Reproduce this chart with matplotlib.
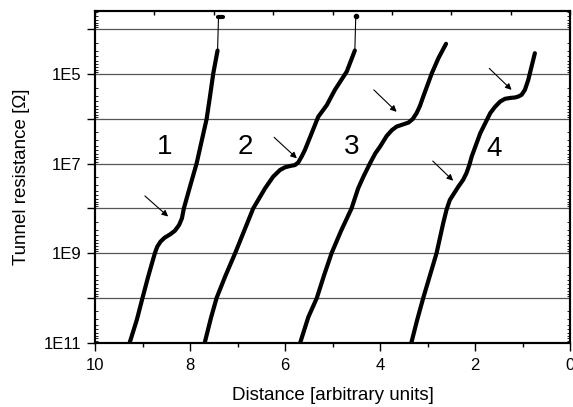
import numpy as np
import matplotlib
matplotlib.use("Agg")
import matplotlib.pyplot as plt
from matplotlib.ticker import FixedLocator, FuncFormatter, LogLocator, NullFormatter

plt.rcParams['font.family'] = ['Liberation Sans', 'DejaVu Sans']

# curve data: distance and log10 of the resistance
dist1 = [9.27, 9.12, 9.00, 8.88, 8.74, 8.69, 8.62, 8.53, 8.42, 8.32, 8.23, 8.17, 8.13, 8.00, 7.86, 7.75, 7.65, 7.58, 7.51, 7.42]
logr1 = [11.0, 10.49, 10.0, 9.52, 9.0, 8.855, 8.74, 8.65, 8.58, 8.50, 8.37, 8.22, 8.0, 7.51, 6.99, 6.47, 6.0, 5.5, 4.98, 4.47]

dist2 = [7.69, 7.56, 7.44, 7.26, 7.05, 6.86, 6.67, 6.42, 6.25, 6.105, 6.00, 5.89, 5.79, 5.72, 5.65, 5.58, 5.47, 5.30, 5.12, 4.95, 4.70, 4.53]
logr2 = [11.0, 10.45, 10.0, 9.52, 9.0, 8.5, 8.0, 7.55, 7.29, 7.14, 7.08, 7.05, 7.03, 6.97, 6.84, 6.69, 6.40, 5.95, 5.69, 5.35, 4.94, 4.47]

dist3 = [5.68, 5.51, 5.33, 5.18, 5.02, 4.82, 4.60, 4.46, 4.35, 4.21, 4.10, 4.00, 3.86, 3.75, 3.65, 3.51, 3.40, 3.31, 3.23, 3.16, 3.09, 2.91, 2.77, 2.61]
logr3 = [11.0, 10.43, 10.0, 9.5, 9.0, 8.5, 8.0, 7.55, 7.29, 6.99, 6.77, 6.62, 6.38, 6.25, 6.17, 6.12, 6.08, 6.0, 5.87, 5.71, 5.50, 4.98, 4.64, 4.32]

dist4 = [3.34, 3.22, 3.09, 2.95, 2.81, 2.67, 2.60, 2.53, 2.44, 2.35, 2.25, 2.18, 2.12, 2.07, 1.89, 1.68, 1.58, 1.47, 1.37, 1.26, 1.16, 1.09, 1.02, 0.95, 0.88, 0.81, 0.74]
logr4 = [11.0, 10.5, 10.0, 9.5, 9.0, 8.33, 8.03, 7.81, 7.66, 7.51, 7.36, 7.21, 7.03, 6.84, 6.32, 5.87, 5.73, 5.61, 5.55, 5.53, 5.52, 5.50, 5.46, 5.35, 5.13, 4.83, 4.53]

# thin jumps at the top of curves 1 and 2
jump_dist = [[7.42, 7.40], [4.53, 4.51]]
jump_logr = [[4.47, 3.73], [4.47, 3.69]]

# arrows: (tail x, tail log r, head x, head log r)
arrows = [(8.95, 7.72, 8.46, 8.18),
          (6.23, 6.41, 5.75, 6.88),
          (4.13, 5.35, 3.65, 5.84),
          (2.89, 6.94, 2.46, 7.38),
          (1.70, 4.87, 1.23, 5.35)]

labels = ['1', '2', '3', '4']
label_x = [8.53, 6.83, 4.60, 1.60]
label_logr = [6.62, 6.62, 6.62, 6.66]

fig = plt.figure(figsize=(5.73, 4.07), dpi=100)
ax = fig.add_axes([0.1658, 0.158, 0.829, 0.8142])

for d, l in [(dist1, logr1), (dist2, logr2), (dist3, logr3), (dist4, logr4)]:
    ax.plot(d, np.power(10.0, l), color='black', lw=3.0, solid_joinstyle='round', solid_capstyle='round')

for d, l in zip(jump_dist, jump_logr):
    ax.plot(d, np.power(10.0, l), color='black', lw=0.8)
# end blobs
ax.plot([7.41, 7.30], [10**3.73, 10**3.73], color='black', lw=3.0, solid_capstyle='round')
ax.plot([4.51], [10**3.69], 'o', color='black', ms=3)

for x0, y0, x1, y1 in arrows:
    ax.annotate('', xy=(x1, 10**y1), xytext=(x0, 10**y0),
                arrowprops=dict(arrowstyle='-|>', color='black', lw=0.8,
                                mutation_scale=9, shrinkA=0, shrinkB=0))

for t, x, l in zip(labels, label_x, label_logr):
    ax.text(x, 10**l, t, fontsize=20, ha='center', va='center')

ax.set_yscale('log')
ax.set_xlim(10, 0)
ax.set_ylim(1e11, 10**3.594)

decades = [10.0**k for k in range(4, 12)]
ax.yaxis.set_major_locator(FixedLocator(decades))
ax.yaxis.set_major_formatter(FuncFormatter(
    lambda v, p: '1E%d' % round(np.log10(v)) if round(np.log10(v)) % 2 == 1 else ''))
ax.yaxis.set_minor_locator(LogLocator(base=10, subs=np.arange(2, 10), numticks=20))
ax.yaxis.set_minor_formatter(NullFormatter())
ax.tick_params(axis='y', which='major', direction='out', length=6, width=1, labelsize=12, pad=4)
ax.tick_params(axis='y', which='minor', direction='in', length=2, width=0.6, left=True, right=True)

ax.set_xticks([10, 8, 6, 4, 2, 0])
ax.set_xticks([9, 7, 5, 3, 1], minor=True)
ax.tick_params(axis='x', which='major', direction='out', length=6, width=1, labelsize=12, pad=5)
ax.tick_params(axis='x', which='minor', direction='out', length=3, width=1)

top = ax.twiny()
top.set_xlim(10, 0)
top.set_xticks(np.arange(0, 10.01, 1.25))
top.tick_params(axis='x', direction='in', length=3, width=1, labeltop=False)

ax.grid(axis='y', which='major', color='#555555', lw=0.9)
ax.set_axisbelow(True)

for sp in list(ax.spines.values()) + list(top.spines.values()):
    sp.set_linewidth(1.5)

ax.set_xlabel('Distance [arbitrary units]', fontsize=13.5)
ax.set_ylabel('Tunnel resistance [Ω]', fontsize=13.5)
ax.xaxis.set_label_coords(0.5, -0.135)
ax.yaxis.set_label_coords(-0.137, 0.5)

fig.savefig('out.png', dpi=100)
